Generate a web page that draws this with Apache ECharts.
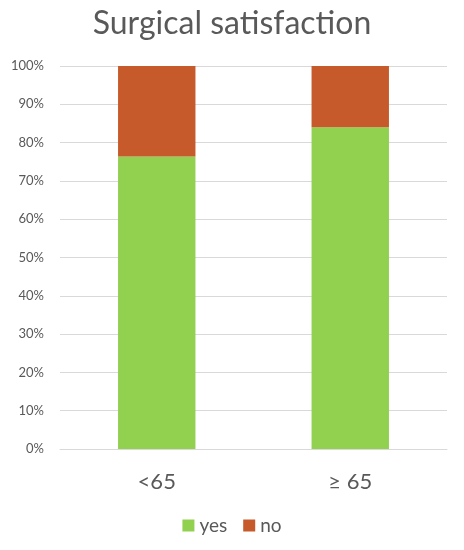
<!DOCTYPE html>
<html>
<head>
<meta charset="utf-8">
<script src="https://cdn.jsdelivr.net/npm/echarts@6/dist/echarts.min.js"></script>
<style>
  html, body { margin: 0; padding: 0; background: #fff; }
  #chart { width: 464px; height: 550px; }
</style>
</head>
<body>
<div id="chart"></div>
<script>
// data
const categories = ['<65', '≥ 65'];
const yesValues = [76.4, 84.0];
const noValues = [23.6, 16.0];

const chart = echarts.init(document.getElementById('chart'));
const font = 'Lato, "Open Sans", sans-serif';

chart.setOption({
  animation: false,
  title: {
    text: 'Surgical satisfaction',
    left: 'center',
    top: 3,
    textStyle: { fontFamily: font, fontSize: 32, fontWeight: 'normal', color: '#595959' }
  },
  legend: {
    bottom: 10,
    left: 'center',
    itemWidth: 12,
    itemHeight: 12,
    itemGap: 16,
    icon: 'rect',
    textStyle: { fontFamily: font, fontSize: 19, color: '#595959' },
    data: ['yes', 'no']
  },
  grid: { left: 60, right: 17, top: 66, bottom: 101 },
  xAxis: {
    type: 'category',
    data: categories,
    axisLine: { lineStyle: { color: '#d9d9d9' } },
    axisTick: { show: false },
    axisLabel: { fontFamily: font, fontSize: 22, color: '#595959', margin: 22 }
  },
  yAxis: {
    type: 'value',
    min: 0,
    max: 100,
    interval: 10,
    axisLine: { show: false },
    axisTick: { show: false },
    splitLine: { lineStyle: { color: '#d9d9d9', width: 1 } },
    axisLabel: { fontFamily: font, fontSize: 13, color: '#595959', margin: 16, formatter: '{value}%' }
  },
  series: [
    {
      name: 'yes',
      type: 'bar',
      stack: 'total',
      barWidth: '40%',
      itemStyle: { color: '#92d050' },
      data: yesValues
    },
    {
      name: 'no',
      type: 'bar',
      stack: 'total',
      barWidth: '40%',
      itemStyle: { color: '#c65a2b' },
      data: noValues
    }
  ]
});
</script>
</body>
</html>
